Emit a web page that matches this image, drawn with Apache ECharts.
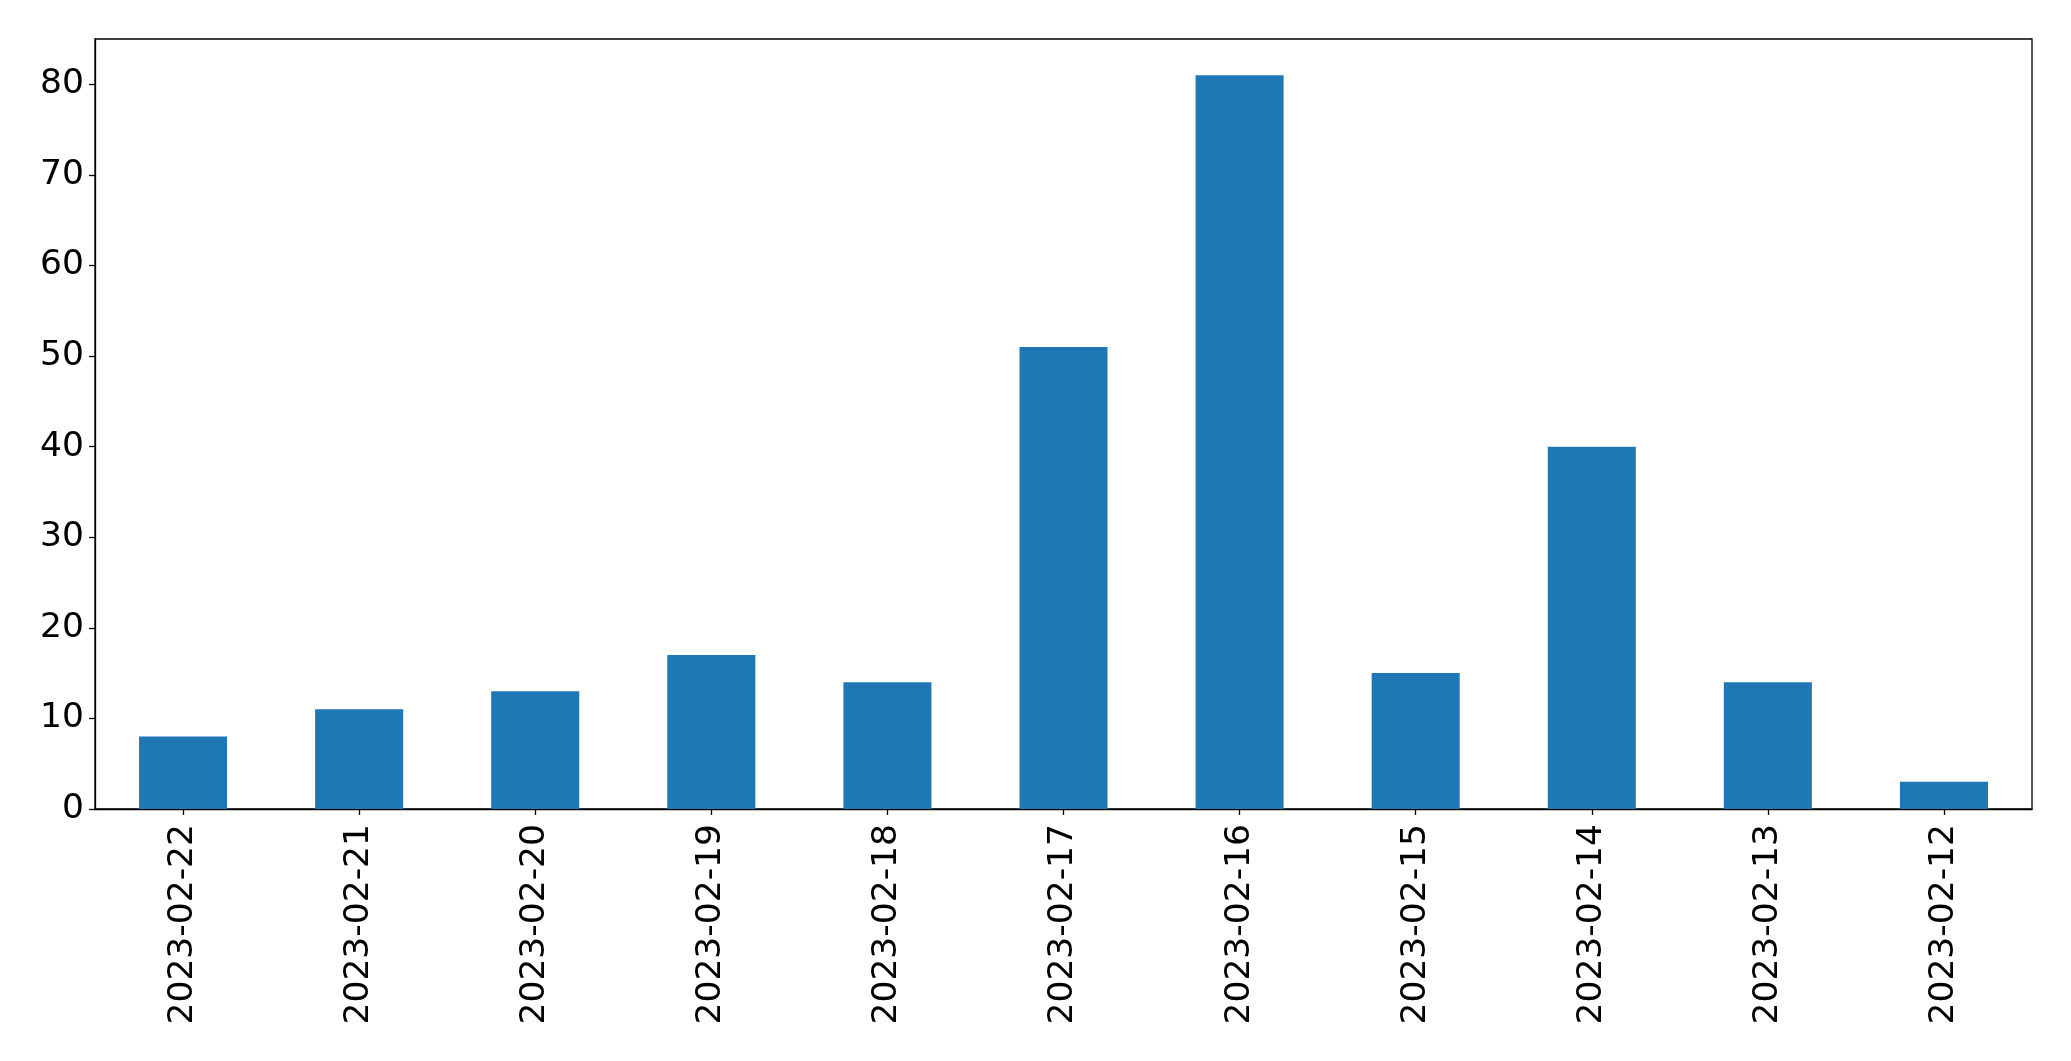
<!DOCTYPE html>
<html>
<head>
<meta charset="utf-8">
<script src="https://cdn.jsdelivr.net/npm/echarts@6/dist/echarts.min.js"></script>
<style>
html,body{margin:0;padding:0;background:#fff;}
#chart{width:2071px;height:1061px;}
</style>
</head>
<body>
<div id="chart"></div>
<script>
const categories = ['2023-02-22','2023-02-21','2023-02-20','2023-02-19','2023-02-18','2023-02-17','2023-02-16','2023-02-15','2023-02-14','2023-02-13','2023-02-12'];
const values = [8, 11, 13, 17, 14, 51, 81, 15, 40, 14, 3];
const yTicks = [0, 10, 20, 30, 40, 50, 60, 70, 80];

const chart = echarts.init(document.getElementById('chart'));
const font = 'DejaVu Sans';
chart.setOption({
  animation: false,
  grid: {left: 95, top: 39, right: 39, bottom: 252, show: true, borderColor: '#000', borderWidth: 1.3, backgroundColor: 'transparent'},
  xAxis: {
    type: 'category',
    data: categories,
    boundaryGap: true,
    axisLine: {show: true, lineStyle: {color: '#000', width: 1.3}},
    axisTick: {show: true, alignWithLabel: true, length: 6, lineStyle: {color: '#000', width: 1.3}},
    axisLabel: {rotate: 90, margin: 15, color: '#000', fontSize: 34.5, fontFamily: font, interval: 0}
  },
  yAxis: {
    type: 'value',
    min: 0, max: 85, interval: 10,
    splitLine: {show: false},
    axisLine: {show: true, lineStyle: {color: '#000', width: 1.3}},
    axisTick: {show: true, length: 6, customValues: yTicks, lineStyle: {color: '#000', width: 1.3}},
    axisLabel: {margin: 11, color: '#000', fontSize: 34.5, fontFamily: font, customValues: yTicks}
  },
  series: [{
    type: 'bar',
    data: values,
    barWidth: '50%',
    itemStyle: {color: '#1f77b4'}
  }]
});
</script>
</body>
</html>
